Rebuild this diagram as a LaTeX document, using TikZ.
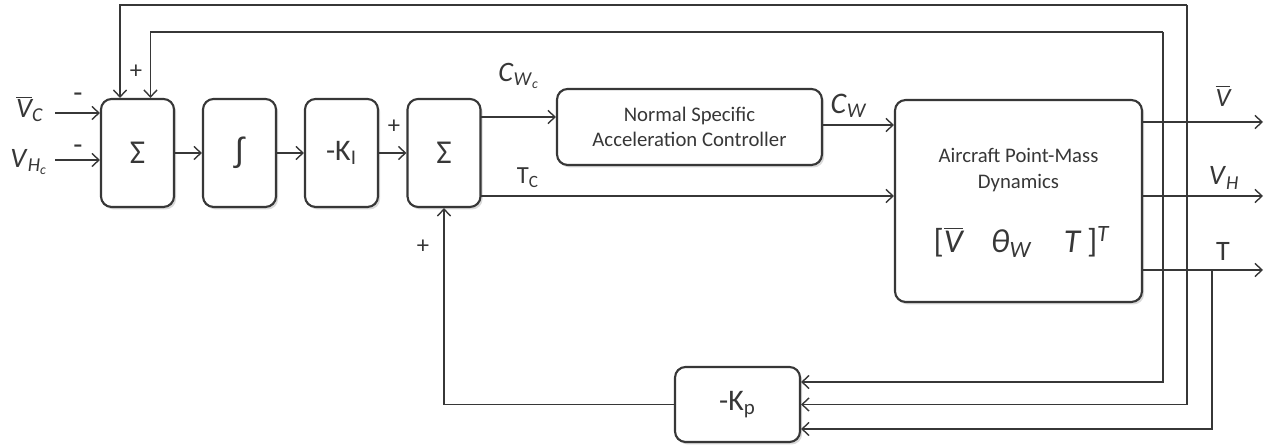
\documentclass[tikz,border=0pt]{standalone}
\usepackage{fontspec}
\setmainfont{Carlito}
\newfontfamily\symfont{Liberation Sans}
\usepackage{tikz}
\usetikzlibrary{
  arrows.meta,
  positioning,
  shadows
}
\definecolor{linegray}{RGB}{55,55,55}
\definecolor{shadowgray}{RGB}{170,170,170}

\begin{document}
\begin{tikzpicture}[
  x=0.02cm, y=-0.02cm,
  block/.style={draw=linegray, line width=1.2pt, rounded corners=6pt, fill=white, text=linegray, align=center,
    drop shadow={shadow xshift=1.2pt, shadow yshift=-1.4pt, fill=shadowgray, opacity=0.45}},
  opbox/.style={block, minimum width=1.46cm, minimum height=2.16cm, font=\fontsize{17}{20}\selectfont},
  sig/.style={draw=linegray, line width=0.8pt, -{Straight Barb[length=4pt,width=7.5pt]}},
  lbl/.style={text=linegray, inner sep=0pt, font=\fontsize{16}{18}\selectfont},
  sgn/.style={text=linegray, inner sep=0pt, font=\fontsize{14}{16}\selectfont}
]
  \useasboundingbox (0,0) rectangle (1268,445);

  \node[opbox, font=\fontsize{19}{22}\selectfont] (sumA) at (137.5,153) {Σ};
  \node[opbox, font=\symfont\fontsize{19}{22}\selectfont] (integ) at (239.5,153) {∫};
  \node[opbox] (ki) at (341.5,153) {-K\textsubscript{I}};
  \node[opbox, font=\fontsize{19}{22}\selectfont] (sumB) at (444,153) {Σ};
  \node[block, minimum width=5.3cm, minimum height=1.52cm, font=\fontsize{11.8}{14.5}\selectfont] (nsac) at (689.5,127)
    {Normal Specific\\Acceleration Controller};
  \node[block, minimum width=4.94cm, minimum height=4.04cm] (plant) at (1018.5,201) {};
  \node[text=linegray, align=center, font=\fontsize{11.8}{14.5}\selectfont] (plname) at (1018.5,170)
    {Aircraft Point-Mass\\Dynamics};
  \node[lbl, font=\fontsize{19}{21}\selectfont] (plstate) at (1022,242)
    {[$\overline{\textit{V}}$\hspace{16pt}\textit{θ}\textsubscript{\textit{W}}\hspace{18pt}\textit{T}\,]\textsuperscript{\textit{T}}};
  \node[block, minimum width=2.5cm, minimum height=1.5cm, font=\fontsize{17}{20}\selectfont] (kp) at (737.5,404.5) {-K\textsubscript{p}};

  \node[lbl] (lvc) at (30,109) {$\overline{\textit{V}}$\textsubscript{\textit{C}}};
  \node[lbl] (lvh) at (29,162) {\textit{V}\textsubscript{\textit{H}\textsubscript{\textit{c}}}};
  \node[sgn, font=\fontsize{17}{19}\selectfont] (mA) at (78,98) {-};
  \node[sgn, font=\fontsize{17}{19}\selectfont] (mB) at (78,150) {-};
  \node[sgn] (pA) at (136,72) {+};
  \node[sgn] (pB) at (394,127) {+};
  \node[sgn] (pC) at (423,247) {+};
  \node[lbl] (lcwc) at (519,76) {\textit{C}\textsubscript{\textit{W}\textsubscript{\textit{c}}}};
  \node[lbl, font=\fontsize{14}{16}\selectfont] (ltc) at (528,178) {T\textsubscript{C}};
  \node[lbl, font=\fontsize{17}{19}\selectfont] (lcw) at (849,106) {\textit{C}\textsubscript{\textit{W}}};
  \node[lbl, font=\fontsize{15}{17}\selectfont] (lvbar) at (1223,96) {$\overline{\textit{V}}$};
  \node[lbl] (lvhout) at (1224,178) {\textit{V}\textsubscript{\textit{H}}};
  \node[lbl] (lt) at (1223,251) {T};

  \coordinate (vc) at (55,113);
  \coordinate (vh) at (55,160);
  \coordinate (cwc) at (481,117);
  \coordinate (tc) at (481,196);
  \coordinate (cw) at (822,125);
  \coordinate (loopA) at (1187,5);
  \coordinate (loopB) at (1163,32);
  \coordinate (tap) at (1212,270);
  \coordinate (kin1) at ([yshift=0.45cm]kp.east);
  \coordinate (kin2) at (kp.east);
  \coordinate (kin3) at ([yshift=-0.49cm]kp.east);

  \draw[sig] (vc) -- (vc -| sumA.west);
  \draw[sig] (vh) -- (vh -| sumA.west);
  \draw[sig] (sumA) -- (integ);
  \draw[sig] (integ) -- (ki);
  \draw[sig] (ki) -- (sumB);
  \draw[sig] (cwc) -- (cwc -| nsac.west);
  \draw[sig] (tc) -- (tc -| plant.west);
  \draw[sig] (cw) -- (cw -| plant.west);
  \foreach \y in {122,196,270}
    \draw[sig] (plant.east |- 0,\y) -- (1263,\y);

  \draw[sig] (loopA) -| ([xshift=-0.35cm]sumA.north);
  \draw[sig] (loopB) -| ([xshift=0.26cm]sumA.north);
  \draw[sig] (loopB) |- (kin1);
  \draw[sig] (loopA) |- (kin2);
  \draw[sig] (tap) |- (kin3);
  \draw[sig] (kp.west) -| (sumB.south);
\end{tikzpicture}
\end{document}
